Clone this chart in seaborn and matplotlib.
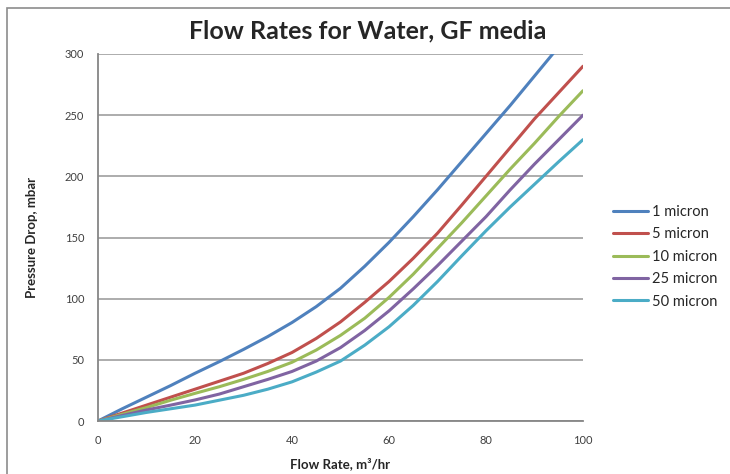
import matplotlib
matplotlib.use("Agg")
import matplotlib.pyplot as plt
import seaborn as sns
import pandas as pd
import numpy as np
from matplotlib.patches import Rectangle

sns.set_style("white")
plt.rcParams["font.family"] = ["Lato", "DejaVu Sans"]

# values, every 5 m3/hr
flow = [0, 5, 10, 15, 20, 25, 30, 35, 40, 45, 50, 55, 60, 65, 70, 75, 80, 85, 90, 95, 100]
p_1 = [0, 10, 19.5, 29, 39, 48.5, 58.5, 69, 80.5, 93.5, 108.5, 126.5, 146, 167, 189, 212, 235, 258, 282, 306, 330]
p_5 = [0, 6.5, 13, 19.5, 26, 32.5, 39, 47, 56, 67.5, 81, 97, 114, 133, 153.5, 176.5, 200, 223.5, 247, 268.5, 290]
p_10 = [0, 5.5, 11, 17, 22.6, 28, 34, 40.5, 48, 58, 70, 84, 101, 120, 141, 162, 184, 206, 227, 249, 270]
p_25 = [0, 4.5, 9, 13, 17.2, 22, 28, 34, 40.5, 49, 60, 74, 90, 108, 127, 147, 167, 189, 210, 230, 250]
p_50 = [0, 3.5, 7, 10, 13, 17, 21, 26, 32, 40, 49, 62, 77, 94.5, 114, 135, 155.5, 175, 193.5, 212, 230]
series = ["1 micron", "5 micron", "10 micron", "25 micron", "50 micron"]
colors = ["#4F81BD", "#C0504D", "#9BBB59", "#8064A2", "#4BACC6"]

df = pd.concat([
    pd.DataFrame({"flow": flow, "dp": vals, "filter": name})
    for name, vals in zip(series, [p_1, p_5, p_10, p_25, p_50])
])

fig = plt.figure(figsize=(7.3, 4.74), dpi=100)
ax = fig.add_axes([98 / 730, 1 - 421 / 474, (583 - 98) / 730, (421 - 54) / 474])

sns.lineplot(data=df, x="flow", y="dp", hue="filter", hue_order=series,
             palette=colors, linewidth=2.2, ax=ax, legend=True)

ax.set_xlim(0, 100)
ax.set_ylim(0, 300)
ax.set_xticks(range(0, 101, 20))
ax.set_yticks(range(0, 301, 50))
ax.yaxis.grid(True, color="#a6a6a6", linewidth=1.3)
ax.set_axisbelow(True)
for s in ["top", "right"]:
    ax.spines[s].set_visible(False)
for s in ["left", "bottom"]:
    ax.spines[s].set_color("#868686")
    ax.spines[s].set_linewidth(1.3)
ax.tick_params(axis="both", direction="out", length=5, width=1.2, color="#868686",
               labelsize=8, labelcolor="#404040", pad=5)

ax.set_xlabel("Flow Rate, m³/hr", fontsize=9.5, fontweight="bold", labelpad=8)
ax.set_ylabel("Pressure Drop, mbar", fontsize=9.5, fontweight="bold", labelpad=19)
fig.text(0.503, 0.935, "Flow Rates for Water, GF media", ha="center", va="center",
         fontsize=18, fontweight="bold")

leg = ax.legend(loc="upper left", bbox_to_anchor=(1.035, 0.625), frameon=False,
                fontsize=10.5, handlelength=2.4, handletextpad=0.25, labelspacing=0.58)
for line in leg.get_lines():
    line.set_linewidth(2.2)

fig.patches.append(Rectangle((7 / 730, -0.05), 1.1, 1 - 8 / 474 + 0.05,
                             transform=fig.transFigure, fill=False,
                             edgecolor="#8c8c8c", linewidth=1.2))

fig.savefig("out.png", dpi=100, facecolor="w")
